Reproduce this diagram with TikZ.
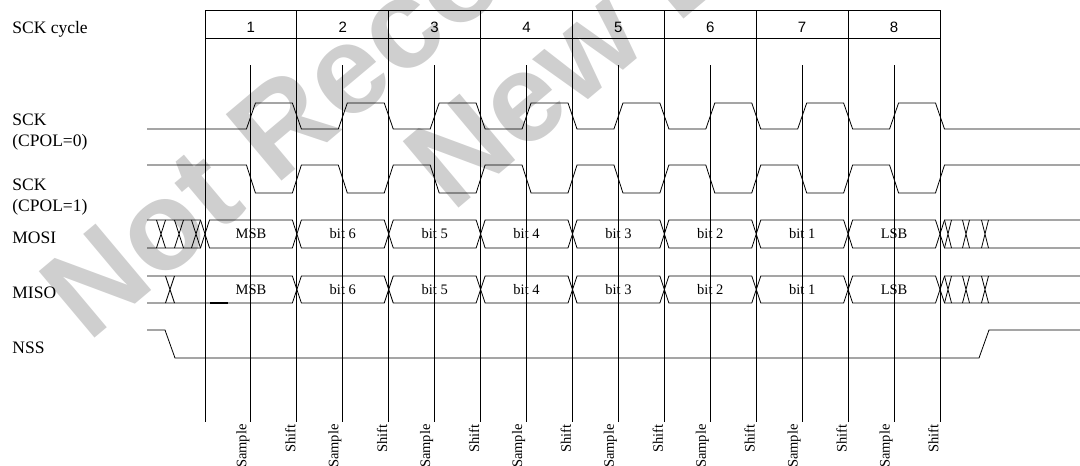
\documentclass[tikz,border=0pt]{standalone}
\usepackage{fontspec}
\setmainfont{Liberation Serif}
\newfontfamily\numfont{Liberation Sans}
\usepackage{tikz}

\begin{document}
\begin{tikzpicture}[x=1pt,y=-1pt,line width=0.8pt,
  watermark/.style={rotate=40,anchor=base west,inner sep=0pt,text=black!19,font=\fontsize{126}{128}\numfont\bfseries},
  siglabel/.style={anchor=base west,inner sep=0pt,font=\fontsize{17.5}{20}\selectfont},
  bitlabel/.style={inner sep=0pt,font=\fontsize{14.5}{16}\selectfont},
  edgelabel/.style={rotate=90,anchor=south east,inner sep=1pt,font=\fontsize{14.5}{16}\selectfont}]
\useasboundingbox (0,0) rectangle (1080,466);
% watermark
\begin{scope}
\clip (0,0) rectangle (1080,466);
\node[watermark] (wm1) at (88,344) {Not Recommended for};
\node[watermark] (wm2) at (452,214) {New Design};
\end{scope}
% signal names
\node[siglabel] (lcyc) at (12,33) {SCK cycle};
\node[siglabel] (lsck0) at (12,125) {SCK};
\node[siglabel] (lcpol0) at (12,146) {(CPOL=0)};
\node[siglabel] (lsck1) at (12,190) {SCK};
\node[siglabel] (lcpol1) at (12,211) {(CPOL=1)};
\node[siglabel] (lmosi) at (12,243) {MOSI};
\node[siglabel] (lmiso) at (12,298) {MISO};
\node[siglabel] (lnss) at (12,353) {NSS};
% cycle header and grid
\draw (205,10) -- (940,10);
\draw (205,38) -- (940,38);
\foreach \i in {0,...,8}
  \draw ({205+\i*91.875},10) -- ({205+\i*91.875},422);
\foreach \i in {1,...,8}{
  \pgfmathsetmacro\sx{158.94+\i*91.875}
  \node[anchor=base,inner sep=0pt,font=\fontsize{15}{17}\numfont] (cyc\i) at (\sx,32) {\i};
  \draw (\sx,65) -- (\sx,422);
}
% SCK, CPOL=0
\draw (147,129) \foreach \i in {0,...,7}{
  -- ({246.44+\i*91.875},129) -- ({255.44+\i*91.875},103)
  -- ({292.375+\i*91.875},103) -- ({301.375+\i*91.875},129)} -- (1080,129);
% SCK, CPOL=1
\draw (147,165) \foreach \i in {0,...,7}{
  -- ({246.44+\i*91.875},165) -- ({255.44+\i*91.875},193)
  -- ({292.375+\i*91.875},193) -- ({301.375+\i*91.875},165)} -- (1080,165);
% MOSI
\draw (147,220) -- (200.5,220) -- (205,234) -- (200.5,248) -- (147,248);
\foreach \x in {161,179,196}
  \draw (\x-4.5,220) -- (\x+4.5,248) (\x-4.5,248) -- (\x+4.5,220);
\foreach \txt [count=\i from 0] in {MSB,bit 6,bit 5,bit 4,bit 3,bit 2,bit 1,LSB}{
  \pgfmathsetmacro\dl{205+\i*91.875}
  \pgfmathsetmacro\dr{296.875+\i*91.875}
  \draw (\dl,234) -- (\dl+4.5,220) -- (\dr-4.5,220) -- (\dr,234) -- (\dr-4.5,248) -- (\dl+4.5,248) -- cycle;
  \node[bitlabel] (mosi\i) at ({\dl+45.94},234) {\txt};
}
\draw (1080,220) -- (944.5,220) -- (940,234) -- (944.5,248) -- (1080,248);
\foreach \x in {948,966,985}
  \draw (\x-3.5,220) -- (\x+3.5,248) (\x-3.5,248) -- (\x+3.5,220);
% MISO
\draw (147,276) -- (292.375,276) -- (296.875,289.5) -- (292.375,303) -- (147,303);
\draw (165.5,276) -- (174.5,303) (165.5,303) -- (174.5,276);
\draw[line width=2pt] (210,302.5) -- (228,302.5);
\node[bitlabel] (miso0) at (250.94,289.5) {MSB};
\foreach \txt [count=\i from 1] in {bit 6,bit 5,bit 4,bit 3,bit 2,bit 1,LSB}{
  \pgfmathsetmacro\dl{205+\i*91.875}
  \pgfmathsetmacro\dr{296.875+\i*91.875}
  \draw (\dl,289.5) -- (\dl+4.5,276) -- (\dr-4.5,276) -- (\dr,289.5) -- (\dr-4.5,303) -- (\dl+4.5,303) -- cycle;
  \node[bitlabel] (miso\i) at ({\dl+45.94},289.5) {\txt};
}
\draw (1080,276) -- (944.5,276) -- (940,289.5) -- (944.5,303) -- (1080,303);
\foreach \x in {948,966,985}
  \draw (\x-3.5,276) -- (\x+3.5,303) (\x-3.5,303) -- (\x+3.5,276);
% NSS
\draw (147,330) -- (165,330) -- (175,358) -- (979,358) -- (989,330) -- (1080,330);
% edge labels
\foreach \i in {0,...,7}{
  \node[edgelabel] (smp\i) at ({250.94+\i*91.875},423) {Sample};
  \node[edgelabel] (sft\i) at ({296.875+\i*91.875},423) {Shift};
}
\end{tikzpicture}
\end{document}
